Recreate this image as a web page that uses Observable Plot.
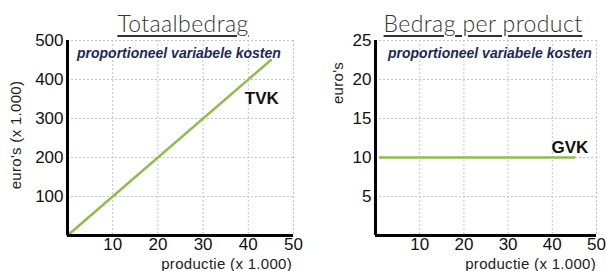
<!DOCTYPE html>
<html><head><meta charset="utf-8">
<script src="https://cdn.jsdelivr.net/npm/d3@7"></script>
<script src="https://cdn.jsdelivr.net/npm/@observablehq/plot@0.6"></script>
<style>
body{margin:0;background:#fff;}
#wrap{position:relative;width:606px;height:271px;overflow:hidden;font-family:"Liberation Sans",Arial,sans-serif;}
#wrap svg{position:absolute;top:0;z-index:0;}
.t{position:absolute;white-space:nowrap;line-height:1;z-index:2;}
.title{font-family:"Lato",sans-serif;font-weight:300;font-size:23px;line-height:normal;letter-spacing:0.4px;color:#333;transform:translateX(-50%);text-decoration:underline;text-decoration-color:#333;text-underline-offset:3px;}
.sub{font-weight:bold;font-style:italic;font-size:14px;color:#1b2a55;}
.xl{font-size:15px;letter-spacing:0.3px;color:#222;}
.yl{font-size:15px;letter-spacing:0.3px;color:#222;transform:translate(-50%,-50%) rotate(-90deg);}
</style></head>
<body><div id="wrap"></div>
<script>
// data
const production = [0, 45];
const tvk = [0, 450];
const gvkProduction = [1, 45];
const gvk = [10, 10];
const xTicks = [10, 20, 30, 40, 50];
const yTicksLeft = [100, 200, 300, 400, 500];
const yTicksRight = [5, 10, 15, 20, 25];
const labelLeft = {x: 43, y: 350, text: "TVK"};
const labelRight = {x: 44, y: 11.3, text: "GVK"};

const green = "#8fbc4f";
const wrap = document.getElementById("wrap");

function chart(opts) {
  const {left, width, mL, mR, yMax, yTicks, xs, ys, label} = opts;
  const pts = xs.map((x, i) => ({x, y: ys[i]}));
  const p = Plot.plot({
    width, height: 271,
    marginLeft: mL, marginRight: mR, marginTop: 40, marginBottom: 36,
    style: {fontFamily: "Liberation Sans, Arial, sans-serif", fontSize: "17px", color: "#111", background: "transparent", overflow: "visible"},
    x: {domain: [0, 50], ticks: xTicks, tickSize: 0, tickPadding: 2, label: null},
    y: {domain: [0, yMax], ticks: yTicks, tickSize: 0, tickPadding: 4, label: null},
    marks: [
      Plot.gridX(xTicks, {stroke: "#c4c4c4", strokeOpacity: 1, strokeDasharray: "2,2"}),
      Plot.gridY(yTicks, {stroke: "#c4c4c4", strokeOpacity: 1, strokeDasharray: "2,2"}),
      Plot.line(pts, {x: "x", y: "y", stroke: green, strokeWidth: 2.5}),
      Plot.ruleX([0], {stroke: "#000", strokeWidth: 3}),
      Plot.ruleY([0], {stroke: "#000", strokeWidth: 3}),
      Plot.text([label], {x: "x", y: "y", text: "text", fontWeight: "bold", fontSize: 17, fill: "#111"})
    ]
  });
  p.style.left = left + "px";
  wrap.appendChild(p);
}

chart({left: 0, width: 300, mL: 67, mR: 7, yMax: 500, yTicks: yTicksLeft, xs: production, ys: tvk, label: labelLeft});
chart({left: 300, width: 306, mL: 75, mR: 10, yMax: 25, yTicks: yTicksRight, xs: gvkProduction, ys: gvk, label: labelRight});

function add(cls, text, style) {
  const d = document.createElement("div");
  d.className = "t " + cls;
  d.textContent = text;
  Object.assign(d.style, style);
  wrap.appendChild(d);
}
add("title", "Totaalbedrag", {left: "183px", top: "9px"});
add("title", "Bedrag per product", {left: "483px", top: "9px"});
add("sub", "proportioneel variabele kosten", {left: "77px", top: "46px"});
add("sub", "proportioneel variabele kosten", {left: "388px", top: "46px"});
add("xl", "productie  (x 1.000)", {right: "314px", top: "256px"});
add("xl", "productie  (x 1.000)", {right: "10px", top: "256px"});
add("yl", "euro's  (x 1.000)", {left: "15px", top: "135px"});
add("yl", "euro's", {left: "337px", top: "83px"});
</script></body></html>
